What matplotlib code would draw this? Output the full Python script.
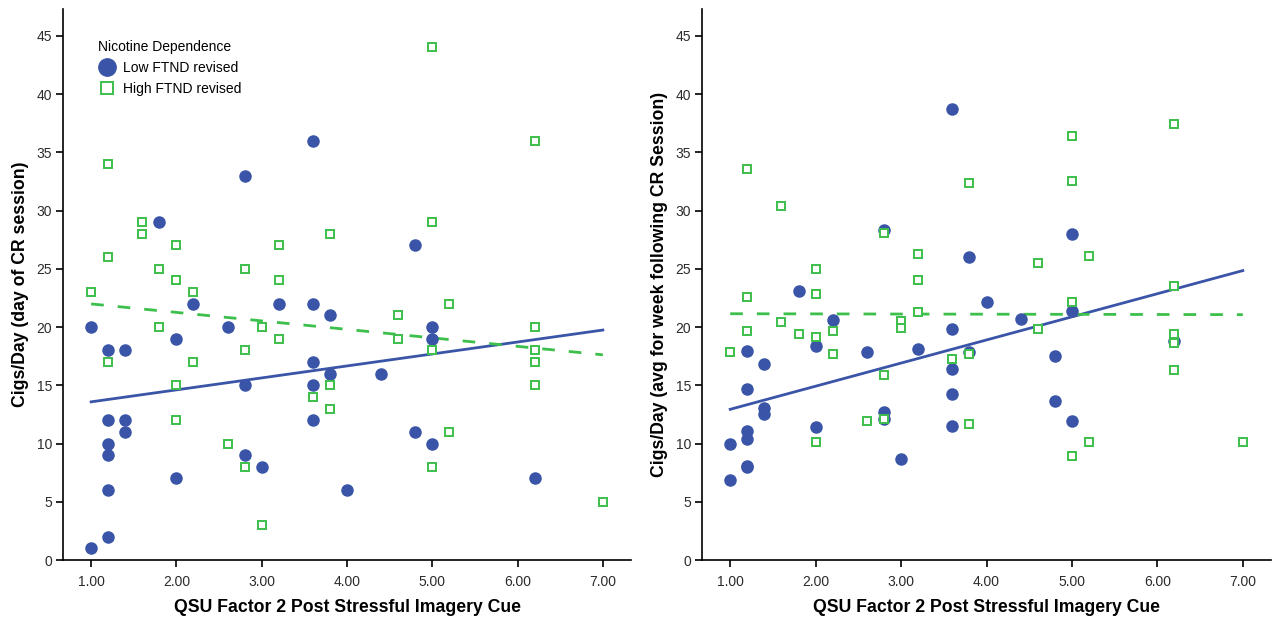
import numpy as np
import matplotlib
matplotlib.use("Agg")
import matplotlib.pyplot as plt
from matplotlib.lines import Line2D

plt.rcParams['font.family'] = ['Liberation Sans', 'DejaVu Sans']

# QSU factor 2 scores and cigs/day, day of CR session (left panel)
low_x = [1.0, 1.0, 1.2, 1.2, 1.2, 1.2, 1.2, 1.2, 1.4, 1.4, 1.4, 1.8, 2.0, 2.0,
         2.2, 2.6, 2.8, 2.8, 2.8, 3.0, 3.2, 3.6, 3.6, 3.6, 3.6, 3.6, 3.8, 3.8,
         4.0, 4.4, 4.8, 4.8, 5.0, 5.0, 5.0, 6.2]
low_day = [20, 1, 18, 12, 10, 9, 6, 2, 18, 12, 11, 29, 19, 7,
           22, 20, 33, 15, 9, 8, 22, 36, 22, 17, 15, 12, 21, 16,
           6, 16, 27, 11, 20, 19, 10, 7]

high_x = [1.0, 1.2, 1.2, 1.2, 1.6, 1.6, 1.8, 1.8, 2.0, 2.0, 2.0, 2.0, 2.2, 2.2,
          2.6, 2.8, 2.8, 2.8, 3.0, 3.0, 3.2, 3.2, 3.2, 3.6, 3.8, 3.8, 3.8,
          4.6, 4.6, 5.0, 5.0, 5.0, 5.0, 5.2, 5.2, 6.2, 6.2, 6.2, 6.2, 6.2, 7.0]
high_day = [23, 34, 26, 17, 29, 28, 25, 20, 27, 24, 15, 12, 23, 17,
            10, 25, 18, 8, 20, 3, 27, 24, 19, 14, 28, 15, 13,
            21, 19, 44, 29, 18, 8, 22, 11, 36, 20, 18, 17, 15, 5]

# avg cigs/day for week following CR session (right panel)
low_week = [9.97, 6.84, 17.98, 14.69, 11.11, 10.4, 8.1, 7.96, 16.84, 13.03, 12.54,
            23.1, 18.4, 11.4, 20.56, 17.84, 28.3, 12.69, 12.1, 8.68, 18.13,
            38.72, 19.85, 16.4, 14.26, 11.54, 26.0, 17.84, 22.14, 20.7,
            17.53, 13.66, 27.98, 21.4, 11.97, 18.8]

high_wx = [1.0, 1.2, 1.2, 1.2, 1.6, 1.6, 1.8, 2.0, 2.0, 2.0, 2.0, 2.2, 2.2,
           2.6, 2.8, 2.8, 2.8, 3.0, 3.0, 3.2, 3.2, 3.2, 3.6, 3.8, 3.8, 3.8,
           4.6, 4.6, 5.0, 5.0, 5.0, 5.0, 5.2, 5.2, 6.2, 6.2, 6.2, 6.2, 6.2, 7.0]
high_week = [17.84, 33.56, 22.57, 19.7, 30.4, 20.4, 19.4, 25.0, 22.85, 19.13, 10.1,
             19.7, 17.7, 11.97, 28.1, 15.84, 12.1, 20.5, 19.9, 26.3, 24.0, 21.28,
             17.27, 32.4, 17.7, 11.68, 25.5, 19.8, 36.4, 32.56, 22.14, 8.96,
             26.1, 10.1, 37.43, 23.56, 19.4, 18.6, 16.27, 10.1]

x_ticks = [1, 2, 3, 4, 5, 6, 7]
y_ticks = list(range(0, 50, 5))

blue = '#3A55A7'
green = '#3DBF4B'

fig = plt.figure(figsize=(12.82, 6.18), dpi=100)
ax1 = fig.add_axes([63 / 1282, 58 / 618, 568 / 1282, 551 / 618])
ax2 = fig.add_axes([702 / 1282, 58 / 618, 569 / 1282, 551 / 618])


def draw(ax, lx, ly, hx, hy, ylabel):
    ax.plot(lx, ly, 'o', ms=8, color=blue, mec=blue, zorder=3)
    ax.plot(hx, hy, 's', ms=5.2, mfc='white', mec=green, mew=1.4, zorder=3)
    # fit lines over the full x range of the data
    xs = np.array([min(min(lx), min(hx)), max(max(lx), max(hx))])
    b = np.polyfit(lx, ly, 1)
    ax.plot(xs, np.polyval(b, xs), '-', color=blue, lw=2, zorder=2)
    g = np.polyfit(hx, hy, 1)
    ax.plot(xs, np.polyval(g, xs), '--', color=green, lw=2, dashes=(4.55, 5.05), zorder=2)

    ax.set_xlim(0.67, 7.33)
    ax.set_ylim(0, 47.3)
    ax.set_xticks(x_ticks)
    ax.set_xticklabels([f'{t:.2f}' for t in x_ticks])
    ax.set_yticks(y_ticks)
    for s in ['top', 'right']:
        ax.spines[s].set_visible(False)
    for s in ['left', 'bottom']:
        ax.spines[s].set_linewidth(1.2)
    ax.tick_params(direction='out', length=5, width=1.2, labelsize=10,
                   labelcolor='#2b2b2b')
    ax.tick_params(axis='x', pad=6)
    ax.tick_params(axis='y', pad=3)
    ax.set_xlabel('QSU Factor 2 Post Stressful Imagery Cue', fontsize=12.7,
                  fontweight='bold', labelpad=7)
    ax.set_ylabel(ylabel, fontsize=12.7, fontweight='bold', labelpad=5)


draw(ax1, low_x, low_day, high_x, high_day, 'Cigs/Day (day of CR session)')
draw(ax2, low_x, low_week, high_wx, high_week,
     'Cigs/Day (avg for week following CR Session)')

handles = [Line2D([], [], marker='o', ls='', ms=12.5, color=blue),
           Line2D([], [], marker='s', ls='', ms=8, mfc='white', mec=green, mew=1.4)]
ax1.legend(handles, ['Low FTND revised', 'High FTND revised'],
           title='Nicotine Dependence', loc='upper left',
           bbox_to_anchor=(0.045, 0.962), frameon=False, fontsize=10,
           title_fontsize=10, alignment='left', handletextpad=0.5,
           handlelength=1.3, labelspacing=0.5, borderpad=0.2)

fig.savefig('out.png', dpi=100)
